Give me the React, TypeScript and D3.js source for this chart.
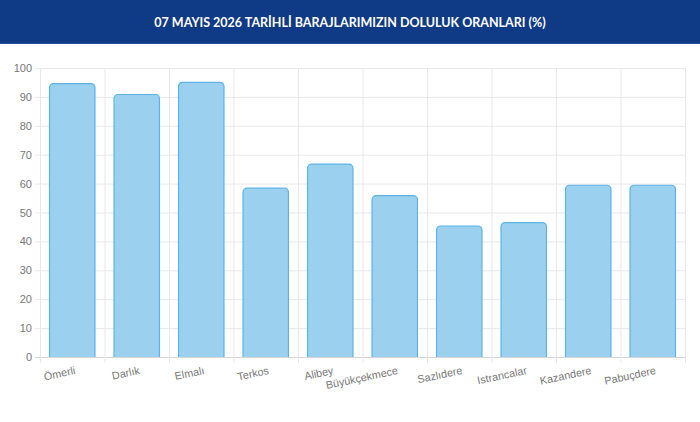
import * as d3 from 'd3'
import React from 'react'

const title = '07 MAYIS 2026 TARİHLİ BARAJLARIMIZIN DOLULUK ORANLARI (%)'
const categories = ['Ömerli', 'Darlık', 'Elmalı', 'Terkos', 'Alibey', 'Büyükçekmece', 'Sazlıdere', 'Istrancalar', 'Kazandere', 'Pabuçdere']
const values = [94.8, 91.0, 95.2, 58.6, 66.9, 56.0, 45.5, 46.7, 59.6, 59.6]
const yTicks = [0, 10, 20, 30, 40, 50, 60, 70, 80, 90, 100]

const W = 700
const H = 422
const left = 40
const right = 685
const top = 68
const bottom = 357

const x = d3.scaleBand<string>().domain(categories).range([left, right]).padding(0)
const y = d3.scaleLinear().domain([0, 100]).range([bottom, top])

// bar with rounded top corners, bottom left open
const barPath = (x0: number, x1: number, y0: number, y1: number, r: number) => {
  const p = d3.path()
  p.moveTo(x0, y1)
  p.lineTo(x0, y0 + r)
  p.arcTo(x0, y0, x0 + r, y0, r)
  p.lineTo(x1 - r, y0)
  p.arcTo(x1, y0, x1, y0 + r, r)
  p.lineTo(x1, y1)
  return p.toString()
}

export default function App() {
  const bw = x.bandwidth()
  const barW = bw * 0.72
  return (
    <svg
      width={W}
      height={H}
      style={{ position: 'absolute', left: 0, top: 0, background: '#fff' }}
      fontFamily="'Liberation Sans', Arial, sans-serif"
    >
      <rect x={0} y={0} width={W} height={44} fill="#0f3a85" />
      <rect x={0} y={43} width={W} height={1} fill="#2a5298" />
      <text
        x={W / 2}
        y={22}
        textAnchor="middle"
        dominantBaseline="central"
        fill="#fff"
        fontFamily="Lato, 'Open Sans', sans-serif"
        fontWeight="bold"
        fontSize={12.5}
      >
        {title}
      </text>

      {yTicks.map((t) => (
        <g key={t}>
          <line x1={left - 5} x2={right} y1={y(t) + 0.5} y2={y(t) + 0.5} stroke={t === 0 ? '#d6d6d6' : '#e8e8e8'} />
          <text x={left - 8} y={y(t)} textAnchor="end" dominantBaseline="central" fill="#777" fontSize={11}>
            {t}
          </text>
        </g>
      ))}

      {categories.map((c) => (
        <line key={'v' + c} x1={x(c)! + 0.5} x2={x(c)! + 0.5} y1={top} y2={bottom + 6} stroke="#e8e8e8" />
      ))}
      <line x1={right + 0.5} x2={right + 0.5} y1={top} y2={bottom + 6} stroke="#e8e8e8" />

      {categories.map((c, i) => {
        const x0 = x(c)! + (bw - barW) / 2
        return (
          <path
            key={'b' + c}
            d={barPath(x0 + 0.5, x0 + barW - 0.5, y(values[i]) + 0.5, y(0), 4)}
            fill="#9bd0ee"
            stroke="#5db3e6"
            strokeWidth={1.2}
          />
        )
      })}

      {categories.map((c) => {
        const cx = x(c)! + bw / 2
        return (
          <text
            key={'l' + c}
            transform={`translate(${cx + 2},${366}) rotate(-12)`}
            textAnchor="end"
            dominantBaseline="hanging"
            fill="#777"
            fontSize={10.8}
          >
            {c}
          </text>
        )
      })}
    </svg>
  )
}
